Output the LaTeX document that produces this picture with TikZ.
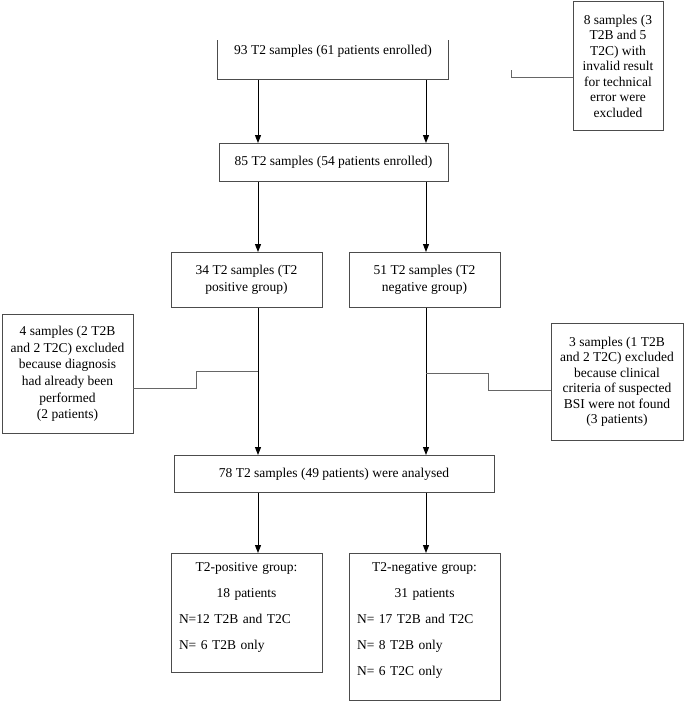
\documentclass[tikz,border=0pt]{standalone}
\usepackage{fontspec}
\setmainfont{Liberation Serif}
\usetikzlibrary{positioning,calc,arrows.meta}

\tikzset{
  box/.style={draw=black!70, line width=0.8pt, align=center, inner sep=3pt, anchor=north,
    font=\fontsize{13.5}{15.5}\selectfont},
  grp/.style={box, align=left, inner xsep=8pt, text width=135pt, text height=15pt},
  link/.style={draw=black!60, line width=0.8pt},
  flow/.style={line width=1pt, -{Triangle[length=8pt,width=6pt]}}
}
\newcommand{\midline}[1]{\makebox[135pt][c]{#1}}

\begin{document}
\begin{tikzpicture}[x=1pt,y=-1pt]
    \useasboundingbox (0,0) rectangle (685,702);
    % columns of the arrows
    \coordinate (colL) at (258,0);
    \coordinate (colR) at (426,0);

    \node[box, draw=none, minimum width=230pt, minimum height=39pt, text height=11pt, text depth=22pt] (b93) at (333,40) {93 T2 samples (61 patients enrolled)};
    \draw[black!70, line width=0.8pt] (b93.north west) -- (b93.south west) -- (b93.south east) -- (b93.north east);
    \node[box, minimum width=90pt, minimum height=129pt] (ex8) at (618,1) {8 samples (3\\T2B and 5\\T2C) with\\invalid result\\for technical\\error were\\excluded};
    \node[box, minimum width=229pt, minimum height=38pt] (b85) at (333.5,143) {85 T2 samples (54 patients enrolled)};
    \node[box, minimum width=151pt, minimum height=55pt] (b34) at (246.5,252) {34 T2 samples (T2\\[2pt]positive group)};
    \node[box, minimum width=151pt, minimum height=55pt] (b51) at (424.5,252) {51 T2 samples (T2\\[2pt]negative group)};
    \node[box, minimum width=131pt, minimum height=119pt, font=\fontsize{13.5}{16.7}\selectfont] (ex4) at (67.5,314) {4 samples (2 T2B\\and 2 T2C) excluded\\because diagnosis\\had already been\\performed\\(2 patients)};
    \node[box, minimum width=132pt, minimum height=117pt] (ex3) at (617,323) {3 samples (1 T2B\\and 2 T2C) excluded\\because clinical\\criteria of suspected\\BSI were not found\\(3 patients)};
    \node[box, minimum width=320pt, minimum height=37pt] (b78) at (334,455) {78 T2 samples (49 patients) were analysed};
    \node[grp, text depth=98pt] (pos) at (246.5,553) {\midline{T2-positive group:}\\[10.5pt]\midline{18 patients}\\[10.5pt]N=12 T2B and T2C\\[10.5pt]N= 6 T2B only};
    \node[grp, text depth=126pt] (neg) at (424.5,553) {\midline{T2-negative group:}\\[10.5pt]\midline{31 patients}\\[10.5pt]N= 17 T2B and T2C\\[10.5pt]N= 8 T2B only\\[10.5pt]N= 6 T2C only};

    \draw[flow] (b93.south -| colL) -- (b85.north -| colL);
    \draw[flow] (b93.south -| colR) -- (b85.north -| colR);
    \draw[flow] (b85.south -| colL) -- (b34.north -| colL);
    \draw[flow] (b85.south -| colR) -- (b51.north -| colR);
    \draw[flow] (b34.south -| colL) -- (b78.north -| colL);
    \draw[flow] (b51.south -| colR) -- (b78.north -| colR);
    \draw[flow] (b78.south -| colL) -- (pos.north -| colL);
    \draw[flow] (b78.south -| colR) -- (neg.north -| colR);

    % exclusions
    \coordinate (stub8) at (511,70);
    \draw[link] ([yshift=-11.5pt]ex8.west) -| (stub8);
    \coordinate (j4) at (258,371);
    \draw[link] ([yshift=-14.5pt]ex4.east) -| (196,371) -- (j4);
    \coordinate (j3) at (426,373);
    \draw[link] ([yshift=-8.5pt]ex3.west) -| (488,373) -- (j3);
\end{tikzpicture}
\end{document}
